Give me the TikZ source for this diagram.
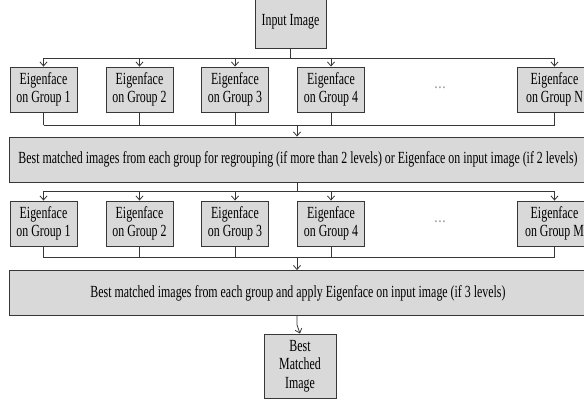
\documentclass[tikz,border=0pt]{standalone}
\usepackage{fontspec}
\setmainfont{Liberation Serif}[FakeStretch=0.70]
\usetikzlibrary{arrows.meta}
\definecolor{boxfill}{RGB}{217,217,217}
\definecolor{edge}{RGB}{55,55,55}
\tikzset{
  box/.style={draw=edge, fill=boxfill, line width=0.9pt, rectangle, inner sep=0pt, align=center,
    font=\fontsize{17}{18.5}\selectfont},
  grp/.style={box, minimum width=67pt, minimum height=45pt},
  wide/.style={box, minimum height=45pt},
  conn/.style={draw=edge, line width=0.8pt},
  arr/.style={conn, -{Straight Barb[length=4pt,width=7pt,line width=0.8pt]}},
}
\begin{document}
\begin{tikzpicture}[x=1pt,y=-1pt]
\clip (0,0) rectangle (584,402);
\fill[white] (0,0) rectangle (584,402);
% top
\node[box, minimum width=71pt, minimum height=52pt] (in) at (290.5,22) {Input Image};
% row 1
\node[grp] (a1) at (43.5,89.5) {Eigenface\\on Group 1};
\node[grp] (a2) at (139.5,89.5) {Eigenface\\on Group 2};
\node[grp] (a3) at (235,89.5) {Eigenface\\on Group 3};
\node[grp] (a4) at (331,89.5) {Eigenface\\on Group 4};
\node[grp, minimum width=75pt] (aN) at (554.5,89.5) {Eigenface\\on Group N};
\node[font=\fontsize{17}{18.5}\selectfont, text=gray] (d1) at (440,88) {\dots};
% big box 1
\node[wide, minimum width=578pt] (w1) at (298,159.5) {Best matched images from each group for regrouping (if more than 2 levels) or Eigenface on input image (if 2 levels)};
% row 2
\node[grp] (b1) at (43.5,223.5) {Eigenface\\on Group 1};
\node[grp] (b2) at (139.5,223.5) {Eigenface\\on Group 2};
\node[grp] (b3) at (235,223.5) {Eigenface\\on Group 3};
\node[grp] (b4) at (331,223.5) {Eigenface\\on Group 4};
\node[grp, minimum width=75pt] (bM) at (554.5,223.5) {Eigenface\\on Group M};
\node[font=\fontsize{17}{18.5}\selectfont, text=gray] (d2) at (440,222) {\dots};
% big box 2
\node[wide, minimum width=578pt] (w2) at (298,293) {Best matched images from each group and apply Eigenface on input image (if 3 levels)};
% result
\node[box, minimum width=72pt, minimum height=64pt] (res) at (300,366) {Best\\Matched\\Image};

% buses
\coordinate (k1) at (0,58);
\coordinate (k2) at (0,125);
\coordinate (k3) at (0,191);
\coordinate (k4) at (0,257.5);

% input -> row 1
\draw[conn] (in.south) -- (in.south |- k1);
\draw[conn] (a1.north |- k1) -- (aN.north |- k1);
\foreach \n in {a1,a2,a3,a4,aN}{\draw[arr] (\n.north |- k1) -- (\n.north);}
% row 1 -> w1
\foreach \n in {a1,a2,a3,a4,aN}{\draw[conn] (\n.south) -- (\n.south |- k2);}
\draw[conn] (a1.south |- k2) -- (aN.south |- k2);
\draw[arr] (w1.north -| 297,0) ++(0,-12) -- (w1.north -| 297,0);
% w1 -> row 2
\draw[conn] (w1.south -| 297,0) -- (k3 -| 297,0);
\draw[conn] (b1.north |- k3) -- (bM.north |- k3);
\foreach \n in {b1,b2,b3,b4,bM}{\draw[arr] (\n.north |- k3) -- (\n.north);}
% row 2 -> w2
\foreach \n in {b1,b2,b3,b4,bM}{\draw[conn] (\n.south) -- (\n.south |- k4);}
\draw[conn] (b1.south |- k4) -- (bM.south |- k4);
\draw[arr] (k4 -| 297,0) -- (w2.north -| 297,0);
% w2 -> result
\draw[arr] (w2.south -| 297,0) -- ++(0,9) -- (res.north);
\end{tikzpicture}
\end{document}
